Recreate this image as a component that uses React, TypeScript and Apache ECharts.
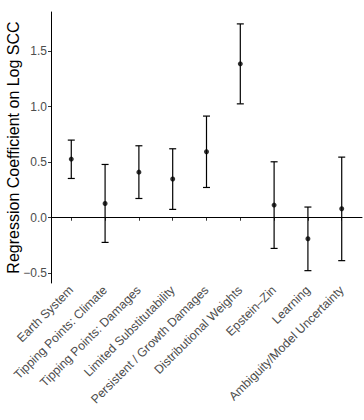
import React, { useEffect, useRef } from "react";
import * as echarts from "echarts";

const categories = [
  "Earth System",
  "Tipping Points: Climate",
  "Tipping Points: Damages",
  "Limited Substitutability",
  "Persistent / Growth Damages",
  "Distributional Weights",
  "Epstein\u2013Zin",
  "Learning",
  "Ambiguity/Model Uncertainty",
];
const estimates = [0.527, 0.128, 0.41, 0.348, 0.593, 1.384, 0.114, -0.189, 0.081];
const lower = [0.353, -0.222, 0.173, 0.075, 0.272, 1.024, -0.276, -0.476, -0.386];
const upper = [0.698, 0.479, 0.647, 0.62, 0.914, 1.743, 0.503, 0.096, 0.545];
const yTicks = [-0.5, 0, 0.5, 1, 1.5];
const xPositions = categories.map((_, i) => i + 1);

export default function App() {
  const ref = useRef<HTMLDivElement>(null);
  useEffect(() => {
    if (!ref.current) return;
    const chart = echarts.init(ref.current, null, { renderer: "svg" });
    const font = "Liberation Sans, Arial, sans-serif";
    chart.setOption({
      animation: false,
      grid: {
        left: 51,
        right: 2,
        top: 12,
        bottom: 137,
        containLabel: false,
        outerBoundsMode: "none",
      },
      xAxis: {
        type: "value",
        min: 0.4,
        max: 9.6,
        splitLine: { show: false },
        axisLine: { show: true, lineStyle: { color: "#000", width: 1 } },
        axisTick: {
          show: true,
          customValues: xPositions,
          length: 3,
          lineStyle: { color: "#333" },
        },
        axisLabel: {
          customValues: xPositions,
          rotate: 45,
          margin: 5,
          color: "#4d4d4d",
          fontSize: 12.3,
          fontFamily: font,
          formatter: (v: number) => categories[Math.round(v) - 1] ?? "",
        },
      },
      yAxis: {
        type: "value",
        min: -0.587,
        max: 1.85,
        name: "Regression Coefficient on Log SCC",
        nameLocation: "middle",
        nameGap: 30,
        nameMoveOverlap: false,
        nameTextStyle: { color: "#000", fontSize: 16, fontFamily: font },
        splitLine: { show: false },
        axisLine: { show: true, lineStyle: { color: "#000", width: 1 } },
        axisTick: {
          show: true,
          customValues: yTicks,
          length: 3,
          lineStyle: { color: "#333" },
        },
        axisLabel: {
          customValues: yTicks,
          margin: 4,
          color: "#4d4d4d",
          fontSize: 12,
          fontFamily: font,
          formatter: (v: number) => (v < 0 ? "\u2212" + Math.abs(v).toFixed(1) : v.toFixed(1)),
        },
      },
      series: [
        {
          type: "custom",
          data: xPositions.map((x, i) => [x, lower[i], upper[i]]),
          renderItem: (params: any, api: any) => {
            const x = api.value(0);
            const lo = api.coord([x, api.value(1)]);
            const hi = api.coord([x, api.value(2)]);
            const cap = 3.5;
            const style = { stroke: "#000", lineWidth: 1.2, fill: "none" };
            return {
              type: "group",
              children: [
                { type: "line", shape: { x1: lo[0], y1: lo[1], x2: hi[0], y2: hi[1] }, style },
                { type: "line", shape: { x1: lo[0] - cap, y1: lo[1], x2: lo[0] + cap, y2: lo[1] }, style },
                { type: "line", shape: { x1: hi[0] - cap, y1: hi[1], x2: hi[0] + cap, y2: hi[1] }, style },
              ],
            };
          },
          z: 2,
        },
        {
          type: "scatter",
          data: xPositions.map((x, i) => [x, estimates[i]]),
          symbol: "circle",
          symbolSize: 5,
          itemStyle: { color: "#000" },
          z: 3,
          markLine: {
            silent: true,
            symbol: "none",
            label: { show: false },
            lineStyle: { color: "#000", type: "solid", width: 1.2 },
            data: [{ yAxis: 0 }],
          },
        },
      ],
    });
    return () => chart.dispose();
  }, []);
  return (
    <div
      ref={ref}
      style={{ position: "absolute", left: 0, top: 0, width: 364, height: 420 }}
    />
  );
}
